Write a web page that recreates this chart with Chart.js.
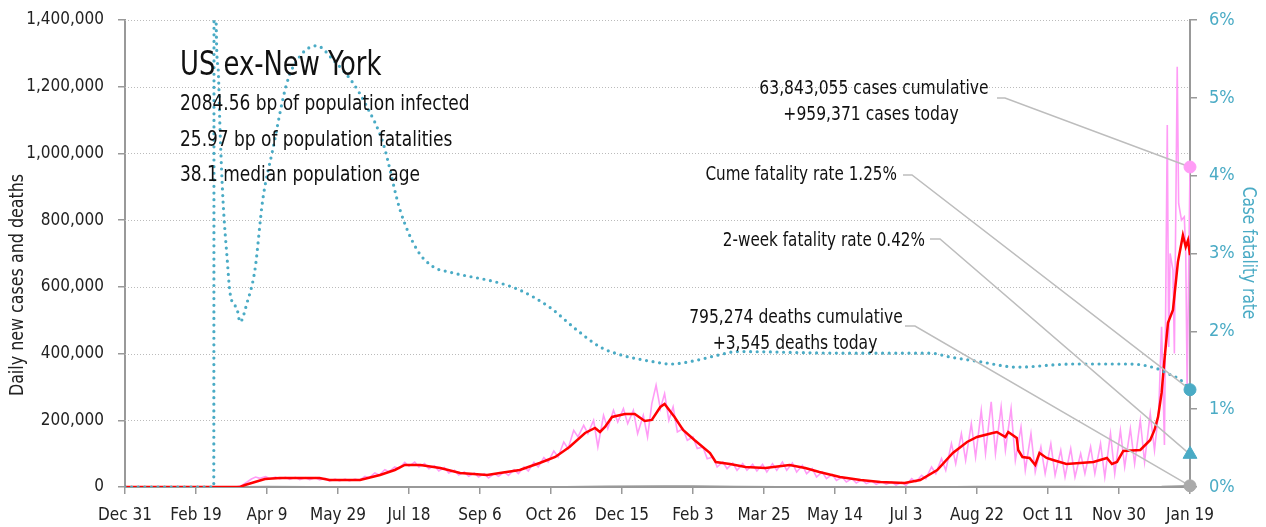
<!DOCTYPE html>
<html lang="en">
<head>
<meta charset="UTF-8">
<title>US ex-New York | Daily cases and fatality rate</title>
<script src="https://cdn.jsdelivr.net/npm/chart.js"></script>
<style>
  body { margin: 0; background: #fff; }
  #wrap { width: 1266px; height: 527px; }
</style>
</head>
<body>
<div id="wrap"><canvas id="chart" width="1266" height="527"></canvas></div>
<script>
// days counted from Dec 31, 2019
const xTickDays = [0, 50, 100, 150, 200, 250, 300, 350, 400, 450, 500, 550, 600, 650, 700, 750];
const yTicks = [0, 200000, 400000, 600000, 800000, 1000000, 1200000, 1400000];
const rateTicks = [0, 1, 2, 3, 4, 5, 6];

// daily new cases (pink)
const caseDays = [0, 78, 82, 86, 89, 92, 95, 99, 102, 106, 109, 113, 116, 120, 123, 127, 130, 134, 137, 141, 144, 148, 151, 155, 158, 162, 165, 169, 172, 176, 179, 183, 186, 190, 193, 197, 200, 204, 207, 211, 214, 218, 221, 225, 228, 232, 235, 239, 242, 246, 249, 253, 256, 260, 263, 267, 270, 274, 277, 281, 284, 288, 291, 295, 298, 302, 305, 309, 312, 316, 319, 323, 326, 330, 333, 337, 340, 344, 347, 351, 354, 358, 361, 365, 368, 371, 374, 377, 380, 383, 386, 389, 393, 396, 400, 403, 407, 410, 414, 417, 421, 424, 428, 431, 435, 438, 442, 445, 449, 452, 456, 459, 463, 466, 470, 473, 477, 480, 484, 487, 491, 494, 498, 501, 505, 508, 512, 515, 519, 522, 526, 529, 533, 536, 540, 543, 547, 550, 554, 557, 561, 564, 568, 571, 575, 578, 582, 585, 589, 592, 596, 599, 603, 606, 610, 613, 617, 620, 624, 627, 631, 634, 638, 641, 645, 648, 652, 655, 659, 662, 666, 669, 673, 676, 680, 683, 687, 690, 694, 697, 701, 704, 708, 711, 715, 718, 722, 725, 728, 730, 732, 734, 735, 736, 738, 739, 741, 742, 744, 746, 747, 748, 750];
const dailyCases = [0, 0, 4e3, 15e3, 24e3, 30e3, 26e3, 31e3, 25e3, 30e3, 24e3, 29e3, 23e3, 29e3, 22e3, 28e3, 22e3, 28e3, 21e3, 26e3, 18e3, 24e3, 18e3, 24e3, 18e3, 24e3, 20e3, 32e3, 28e3, 42e3, 36e3, 52e3, 46e3, 60e3, 55e3, 74e3, 62e3, 75e3, 60e3, 70e3, 55e3, 64e3, 48e3, 58e3, 42e3, 50e3, 36e3, 45e3, 32e3, 42e3, 30e3, 40e3, 27e3, 40e3, 32e3, 45e3, 35e3, 52e3, 40e3, 60e3, 48e3, 74e3, 60e3, 88e3, 75e3, 108e3, 90e3, 135e3, 115e3, 170e3, 150e3, 185e3, 160e3, 200e3, 120e3, 215e3, 175e3, 230e3, 195e3, 235e3, 190e3, 230e3, 160e3, 215e3, 150e3, 250e3, 305e3, 235e3, 280e3, 200e3, 240e3, 165e3, 175e3, 140e3, 150e3, 115e3, 120e3, 85e3, 90e3, 60e3, 75e3, 55e3, 72e3, 50e3, 70e3, 50e3, 68e3, 48e3, 68e3, 45e3, 70e3, 50e3, 75e3, 50e3, 72e3, 45e3, 65e3, 40e3, 55e3, 30e3, 45e3, 25e3, 38e3, 20e3, 30e3, 15e3, 25e3, 12e3, 22e3, 10e3, 18e3, 8e3, 16e3, 8e3, 15e3, 6e3, 14e3, 5e3, 25e3, 15e3, 35e3, 25e3, 60e3, 40e3, 85e3, 50e3, 130e3, 70e3, 160e3, 80e3, 190e3, 90e3, 230e3, 100e3, 255e3, 100e3, 240e3, 110e3, 235e3, 80e3, 180e3, 50e3, 160e3, 45e3, 120e3, 40e3, 130e3, 35e3, 110e3, 30e3, 115e3, 30e3, 100e3, 40e3, 120e3, 40e3, 130e3, 30e3, 160e3, 40e3, 170e3, 60e3, 175e3, 70e3, 200e3, 75e3, 220e3, 110e3, 230e3, 480e3, 126e3, 1085e3, 420e3, 700e3, 650e3, 400e3, 1260e3, 850e3, 800e3, 810e3, 700e3, 290e3, 959371];

// 7-day average of new cases (red)
const avgDays = [0, 81, 84.5, 91.5, 98.6, 109, 137, 144, 165.5, 179.6, 190, 197, 208, 222, 236, 255, 264, 278, 292, 303, 313, 324, 331, 334.5, 338, 343, 352, 359, 366, 371, 377, 380, 387, 393, 401, 412, 416, 426, 437, 451, 468, 479, 489, 503.5, 518, 532, 549, 560, 572, 583, 593, 600, 611, 614, 620, 622, 628, 629, 632, 637, 641, 644, 649, 653.5, 663, 672.5, 682, 691.5, 695, 698.6, 703, 715, 722, 725, 727.5, 730, 732, 734.5, 738, 741.5, 743.7, 745, 747, 748.6, 750];
const avgCases = [0, 0, 6e3, 15e3, 24e3, 27e3, 27e3, 21e3, 21e3, 36e3, 51e3, 66e3, 66e3, 57e3, 42e3, 36e3, 42e3, 51e3, 72e3, 90e3, 120e3, 162e3, 177e3, 165e3, 180e3, 210e3, 219e3, 219e3, 198e3, 201e3, 240e3, 249e3, 210e3, 171e3, 141e3, 102e3, 75e3, 69e3, 60e3, 57e3, 66e3, 57e3, 45e3, 30e3, 21e3, 15e3, 12e3, 21e3, 51e3, 102e3, 135e3, 150e3, 162e3, 165e3, 150e3, 165e3, 147e3, 111e3, 90e3, 87e3, 66e3, 102e3, 87e3, 81e3, 69e3, 72e3, 75e3, 87e3, 69e3, 75e3, 108e3, 111e3, 141e3, 171e3, 210e3, 282e3, 381e3, 492e3, 531e3, 675e3, 725e3, 755e3, 720e3, 740e3, 695e3];

// daily deaths (gray, hugging the axis)
const deathDays = [0, 70, 100, 130, 160, 200, 230, 280, 310, 340, 380, 400, 430, 460, 500, 540, 570, 600, 630, 660, 700, 730, 750];
const dailyDeaths = [0, 0, 1500, 1000, 600, 800, 900, 700, 1000, 2200, 3200, 3000, 1800, 800, 600, 250, 300, 1200, 1800, 1500, 1100, 1200, 3545];

// cumulative case fatality rate, % (teal dotted, right axis)
const cfrDays = [0, 62.5, 63, 64, 65.5, 67, 69, 72, 74, 79, 81, 86, 91.5, 97, 104, 114, 123, 135, 146.5, 160.6, 170, 181.7, 193.7, 205.6, 217, 229, 264, 278, 299, 318, 334.5, 348.6, 372, 384, 403, 419, 431, 503.5, 567, 581, 602, 628, 667.6, 708, 727, 734, 743, 750];
const cfrRate = [0, 0, 20, 6.3, 5.4, 4.55, 3.69, 2.92, 2.49, 2.28, 2.12, 2.37, 2.79, 3.69, 4.33, 5.19, 5.53, 5.67, 5.49, 5.19, 4.9, 4.42, 3.56, 3.05, 2.83, 2.76, 2.62, 2.53, 2.31, 2.02, 1.80, 1.70, 1.61, 1.58, 1.63, 1.70, 1.74, 1.72, 1.72, 1.67, 1.61, 1.54, 1.58, 1.58, 1.52, 1.46, 1.38, 1.25];

// latest values
const lastDay = 750;
const todayCases = 959371;
const todayDeaths = 3545;
const cumeRate = 1.25;
const twoWeekRate = 0.42;

const titleText = 'US ex-New York';
const infoLines = ['2084.56 bp of population infected', '25.97 bp of population fatalities', '38.1 median population age'];
const casesNote = ['63,843,055 cases cumulative', '+959,371 cases today'];
const cumeNote = 'Cume fatality rate 1.25%';
const twoWeekNote = '2-week fatality rate 0.42%';
const deathsNote = ['795,274 deaths cumulative', '+3,545 deaths today'];

const FONT = "'Liberation Sans Narrow', 'DejaVu Sans Condensed', 'Arial Narrow', sans-serif";
const TEAL = '#4aabc5';
const PINK = '#ff9cf6';
const GRAY = '#999';
const MONTHS = ['Jan', 'Feb', 'Mar', 'Apr', 'May', 'Jun', 'Jul', 'Aug', 'Sep', 'Oct', 'Nov', 'Dec'];

function dayLabel(d) {
    const dt = new Date(2019, 11, 31 + d);
    return MONTHS[dt.getMonth()] + ' ' + dt.getDate();
}

function pairs(xs, ys) {
    return xs.map((x, i) => ({ x: x, y: ys[i] }));
}

// the original face is narrower than what we have, so squeeze text a bit
function squeezed(ctx, text, x, y, sx) {
    ctx.save();
    ctx.translate(x, y);
    ctx.scale(sx, 1);
    ctx.fillText(text, 0, 0);
    ctx.restore();
}

// fixed axis box; drop the label padding so the plot top sits where we want
function fixVertical(width) {
    return s => {
        s.width = width;
        s.paddingTop = 0;
        s.paddingBottom = 0;
    };
}

Chart.defaults.font.family = FONT;

// dotted gridlines behind the data
const gridPlugin = {
    id: 'dottedGrid',
    beforeDatasetsDraw(chart) {
        const { ctx, chartArea, scales } = chart;
        ctx.save();
        ctx.strokeStyle = '#bbb';
        ctx.lineWidth = 1;
        ctx.setLineDash([1, 2]);
        yTicks.forEach(v => {
            if (v === 0) return;
            const py = Math.round(scales.y.getPixelForValue(v)) + 0.5;
            ctx.beginPath();
            ctx.moveTo(chartArea.left, py);
            ctx.lineTo(chartArea.right, py);
            ctx.stroke();
        });
        ctx.restore();
        chart.$leadersDone = false;
    }
};

// leader lines go under the end markers, texts on top
function drawLeaders(chart) {
    const { ctx, scales } = chart;
    const mx = scales.x.getPixelForValue(lastDay);
    const leaders = [
        [997, 98, 1005, scales.y.getPixelForValue(todayCases)],
        [903, 175, 912, scales.y1.getPixelForValue(cumeRate)],
        [930, 239, 940, scales.y1.getPixelForValue(twoWeekRate)],
        [905, 326, 915, scales.y.getPixelForValue(todayDeaths)]
    ];
    ctx.save();
    ctx.strokeStyle = '#bdbdbd';
    ctx.lineWidth = 1.5;
    leaders.forEach(([x0, y0, x1, ty]) => {
        ctx.beginPath();
        ctx.moveTo(x0, y0);
        ctx.lineTo(x1, y0);
        ctx.lineTo(mx, ty);
        ctx.stroke();
    });
    ctx.restore();
}

const notesPlugin = {
    id: 'notes',
    beforeDatasetDraw(chart, args) {
        if (!chart.$leadersDone && chart.data.datasets[args.index].isMarker) {
            drawLeaders(chart);
            chart.$leadersDone = true;
        }
    },
    afterDatasetsDraw(chart) {
        const { ctx } = chart;
        ctx.save();
        ctx.fillStyle = '#111';
        ctx.textBaseline = 'middle';
        ctx.textAlign = 'left';
        ctx.font = '33px ' + FONT;
        squeezed(ctx, titleText, 180, 66, 0.87);
        ctx.font = '21px ' + FONT;
        infoLines.forEach((t, i) => squeezed(ctx, t, 180, 105 + i * 35.5, 0.9));

        ctx.font = '19px ' + FONT;
        ctx.textAlign = 'center';
        squeezed(ctx, casesNote[0], 874, 89, 0.91);
        squeezed(ctx, casesNote[1], 871, 115, 0.91);
        squeezed(ctx, deathsNote[0], 796, 318, 0.91);
        squeezed(ctx, deathsNote[1], 795, 344, 0.91);
        ctx.textAlign = 'right';
        squeezed(ctx, cumeNote, 897, 175, 0.89);
        squeezed(ctx, twoWeekNote, 925, 241, 0.89);

        // axis titles
        ctx.textAlign = 'center';
        ctx.save();
        ctx.translate(18, 285);
        ctx.rotate(-Math.PI / 2);
        ctx.fillStyle = '#222';
        squeezed(ctx, 'Daily new cases and deaths', 0, 0, 0.93);
        ctx.restore();
        ctx.save();
        ctx.translate(1248, 253);
        ctx.rotate(Math.PI / 2);
        ctx.fillStyle = TEAL;
        squeezed(ctx, 'Case fatality rate', 0, 0, 0.9);
        ctx.restore();
        ctx.restore();
    }
};

new Chart(document.getElementById('chart'), {
    type: 'line',
    data: {
        datasets: [
            {
                label: 'Today cases', isMarker: true, yAxisID: 'y',
                data: [{ x: lastDay, y: todayCases }],
                showLine: false, pointRadius: 6, pointStyle: 'circle',
                pointBackgroundColor: PINK, pointBorderColor: PINK, clip: false, order: 0
            },
            {
                label: 'Cume rate', isMarker: true, yAxisID: 'y1',
                data: [{ x: lastDay, y: cumeRate }],
                showLine: false, pointRadius: 6, pointStyle: 'circle',
                pointBackgroundColor: TEAL, pointBorderColor: TEAL, clip: false, order: 0
            },
            {
                label: '2-week rate', isMarker: true, yAxisID: 'y1',
                data: [{ x: lastDay, y: twoWeekRate }],
                showLine: false, pointRadius: 8, pointStyle: 'triangle',
                pointBackgroundColor: TEAL, pointBorderColor: TEAL, clip: false, order: 0
            },
            {
                label: 'Today deaths', isMarker: true, yAxisID: 'y',
                data: [{ x: lastDay, y: todayDeaths }],
                showLine: false, pointRadius: 6, pointStyle: 'circle',
                pointBackgroundColor: '#aaa', pointBorderColor: '#aaa', clip: false, order: 0
            },
            {
                label: 'Case fatality rate', yAxisID: 'y1',
                data: pairs(cfrDays, cfrRate),
                borderColor: TEAL, borderWidth: 3.2, borderDash: [0, 6.6],
                borderCapStyle: 'round', cubicInterpolationMode: 'monotone',
                pointRadius: 0, order: 1
            },
            {
                label: 'Cases 7-day avg', yAxisID: 'y',
                data: pairs(avgDays, avgCases),
                borderColor: '#ff0000', borderWidth: 2.5, pointRadius: 0, order: 2
            },
            {
                label: 'Daily deaths', yAxisID: 'y',
                data: pairs(deathDays, dailyDeaths),
                borderColor: GRAY, borderWidth: 1.5, pointRadius: 0, order: 3
            },
            {
                label: 'Daily cases', yAxisID: 'y',
                data: pairs(caseDays, dailyCases),
                borderColor: PINK, borderWidth: 1.6, pointRadius: 0, order: 4
            }
        ]
    },
    options: {
        responsive: false,
        animation: false,
        devicePixelRatio: 1,
        layout: { padding: { top: 20 } },
        plugins: { legend: { display: false }, tooltip: { enabled: false } },
        scales: {
            x: {
                type: 'linear', min: 0, max: lastDay,
                afterBuildTicks: s => { s.ticks = xTickDays.map(v => ({ value: v })); },
                afterFit: s => { s.height = 40; },
                ticks: {
                    callback: v => dayLabel(v), font: { size: 17 }, color: '#222',
                    maxRotation: 0, autoSkip: false, padding: 11
                },
                grid: { drawOnChartArea: false, color: GRAY, tickLength: 7, lineWidth: 1.5 },
                border: { color: GRAY, width: 2 }
            },
            y: {
                position: 'left', min: 0, max: 1400000,
                afterBuildTicks: s => { s.ticks = yTicks.map(v => ({ value: v })); },
                afterFit: fixVertical(125),
                ticks: {
                    callback: v => v.toLocaleString('en-US'), font: { size: 17 }, color: '#222', padding: 14
                },
                grid: { drawOnChartArea: false, color: GRAY, tickLength: 7, lineWidth: 1.5 },
                border: { color: GRAY, width: 2 }
            },
            y1: {
                position: 'right', min: 0, max: 6,
                afterBuildTicks: s => { s.ticks = rateTicks.map(v => ({ value: v })); },
                afterFit: fixVertical(76),
                ticks: {
                    callback: v => v + '%', font: { size: 18 }, color: TEAL, padding: 12
                },
                grid: { drawOnChartArea: false, color: GRAY, tickLength: 7, lineWidth: 1.5 },
                border: { color: GRAY, width: 2 }
            }
        }
    },
    plugins: [gridPlugin, notesPlugin]
});
</script>
</body>
</html>
